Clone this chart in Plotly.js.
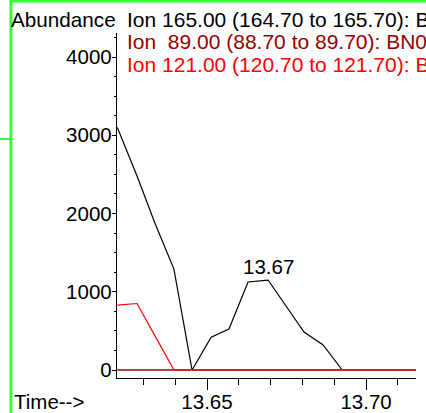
<!DOCTYPE html>
<html>
<head>
<meta charset="utf-8">
<script src="https://cdn.plot.ly/plotly-3.0.1.min.js"></script>
<style>html,body{margin:0;padding:0;background:#fff;}#chart{width:426px;height:413px;}</style>
</head>
<body>
<div id="chart"></div>
<script>
// Retention time (min)
var times = [13.6218, 13.6280, 13.6336, 13.6396, 13.6453, 13.6513, 13.6569, 13.6629, 13.6692,
             13.6748, 13.6805, 13.6865, 13.6925, 13.6984, 13.7041, 13.7101, 13.7157];
// Abundance per ion
var ion165 = [3100, 2480, 1880, 1290, 0, 420, 525, 1125, 1150, 820, 485, 320, 0, 0, 0, 0, 0];
var ion89  = [0, 0, 0, 0, 0, 0, 0, 0, 0, 0, 0, 0, 0, 0, 0, 0, 0];
var ion121 = [830, 850, 440, 0, 0, 0, 0, 0, 0, 0, 0, 0, 0, 0, 0, 0, 0];
var legendLabels = [
  "Ion 165.00 (164.70 to 165.70): BN0",
  "Ion\u00a0 89.00 (88.70 to 89.70): BN0",
  "Ion 121.00 (120.70 to 121.70): BN0"
];
var peakTime = 13.6692, peakValue = 1150, peakLabel = "13.67";

var FONT = "Liberation Sans, Arial, sans-serif";
var L = 117, R = 10, T = 33, B = 35, W = 426, H = 413;
var pw = W - L - R, ph = H - T - B;
function px(x) { return (x - L) / pw; }
function py(y) { return (H - B - y) / ph; }

var traces = [
  {x: times, y: ion165, mode: 'lines', line: {color: '#000000', width: 1.2}, hoverinfo: 'skip'},
  {x: times, y: ion89,  mode: 'lines', line: {color: '#a84848', width: 1.8}, hoverinfo: 'skip'},
  {x: times, y: ion121, mode: 'lines', line: {color: '#ff0000', width: 1.2}, hoverinfo: 'skip'}
];

var green = '#33ff33';
var layout = {
  width: W, height: H,
  margin: {l: L, r: R, t: T, b: B, pad: 0},
  paper_bgcolor: '#ffffff', plot_bgcolor: '#ffffff',
  showlegend: false,
  font: {family: FONT, size: 20, color: '#000'},
  xaxis: {
    range: [13.6217, 13.7157], showgrid: false, zeroline: false,
    showline: true, linecolor: '#000', linewidth: 1.2,
    ticks: 'outside', ticklen: 11, tickcolor: '#000', tickwidth: 1,
    dtick: 0.05, tick0: 13.65, tickformat: '.2f', ticklabelstandoff: -6,
    tickfont: {family: FONT, size: 20.5, color: '#000'},
    minor: {dtick: 0.01, tick0: 13.65, ticks: 'outside', ticklen: 6, tickcolor: '#000', tickwidth: 1, showgrid: false}
  },
  yaxis: {
    range: [-102, 4307], showgrid: false, zeroline: false,
    showline: true, linecolor: '#000', linewidth: 1.2,
    ticks: 'outside', ticklen: 4, tickcolor: '#000', tickwidth: 1,
    dtick: 1000, tick0: 0, ticklabelstandoff: -4,
    tickfont: {family: FONT, size: 20.5, color: '#000'},
    minor: {dtick: 250, tick0: 0, ticks: 'outside', ticklen: 2, tickcolor: '#000', tickwidth: 1, showgrid: false}
  },
  annotations: [
    {xref: 'paper', yref: 'paper', x: px(118), y: py(19), xanchor: 'right', yanchor: 'middle',
     text: 'Abundance', showarrow: false, font: {family: FONT, size: 20.7, color: '#000'}},
    {xref: 'paper', yref: 'paper', x: px(125), y: py(19), xanchor: 'left', yanchor: 'middle',
     text: legendLabels[0], showarrow: false, font: {family: FONT, size: 21, color: '#000000'}},
    {xref: 'paper', yref: 'paper', x: px(125), y: py(41.5), xanchor: 'left', yanchor: 'middle',
     text: legendLabels[1], showarrow: false, font: {family: FONT, size: 21, color: '#990000'}},
    {xref: 'paper', yref: 'paper', x: px(125), y: py(64), xanchor: 'left', yanchor: 'middle',
     text: legendLabels[2], showarrow: false, font: {family: FONT, size: 21, color: '#ff0000'}},
    {xref: 'paper', yref: 'paper', x: px(12), y: py(401), xanchor: 'left', yanchor: 'middle',
     text: 'Time-->', showarrow: false, font: {family: FONT, size: 20.5, color: '#000'}},
    {xref: 'x', yref: 'y', x: peakTime, y: peakValue, xanchor: 'center', yanchor: 'bottom', yshift: 0,
     text: peakLabel, showarrow: false, font: {family: FONT, size: 20.5, color: '#000'}}
  ],
  shapes: [
    {type: 'line', xref: 'paper', yref: 'paper', x0: px(11), x1: px(11), y0: py(0), y1: py(413),
     line: {color: green, width: 3}},
    {type: 'line', xref: 'paper', yref: 'paper', x0: px(10), x1: px(426), y0: py(1), y1: py(1),
     line: {color: green, width: 3}},
    {type: 'line', xref: 'paper', yref: 'paper', x0: px(0), x1: px(11), y0: py(139), y1: py(139),
     line: {color: green, width: 2}}
  ]
};

Plotly.newPlot('chart', traces, layout, {displayModeBar: false, staticPlot: true});
</script>
</body>
</html>
